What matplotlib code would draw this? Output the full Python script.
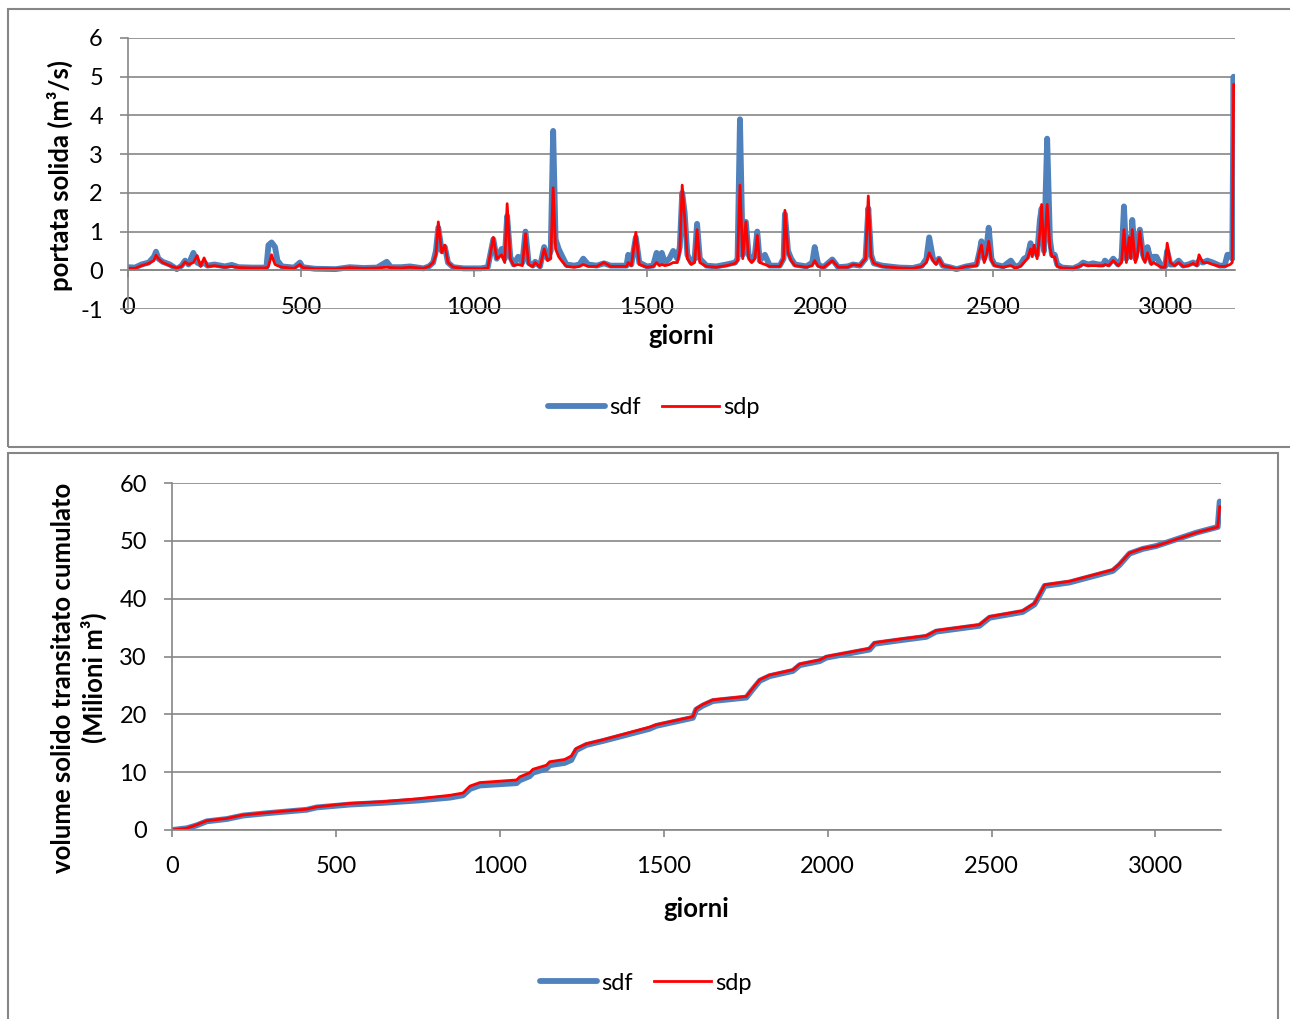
import matplotlib
matplotlib.use("Agg")
import matplotlib.pyplot as plt
from matplotlib.patches import Rectangle
import numpy as np

plt.rcParams['font.family'] = ['Lato', 'DejaVu Sans']
plt.rcParams['axes.unicode_minus'] = False

# portata solida giornaliera (punti principali)
giorni_q = [0, 20, 39, 60, 75, 81, 88, 100, 121, 141, 155, 165, 175, 189, 200, 210, 220, 230, 250, 280,
            300, 320, 360, 400, 406, 415, 425, 432, 445, 480, 497, 505, 540, 600, 641, 680, 720, 748, 760, 790,
            815, 854, 870, 882, 890, 897, 907, 916, 925, 940, 970, 1020, 1040, 1056, 1066, 1080, 1089, 1096, 1105, 1115,
            1128, 1140, 1149, 1158, 1170, 1177, 1191, 1203, 1213, 1222, 1229, 1236, 1245, 1253, 1267, 1290, 1305, 1316, 1330, 1355,
            1376, 1395, 1420, 1441, 1446, 1455, 1468, 1478, 1500, 1518, 1528, 1536, 1543, 1552, 1565, 1576, 1588, 1595, 1602, 1609,
            1617, 1628, 1638, 1645, 1653, 1672, 1700, 1730, 1755, 1762, 1769, 1777, 1786, 1794, 1803, 1812, 1819, 1826, 1841, 1855,
            1884, 1895, 1899, 1908, 1917, 1928, 1961, 1978, 1985, 1995, 2010, 2036, 2053, 2080, 2096, 2116, 2132, 2140, 2148, 2156,
            2180, 2230, 2269, 2295, 2308, 2316, 2327, 2336, 2344, 2355, 2375, 2395, 2423, 2453, 2462, 2467, 2475, 2482, 2488, 2496,
            2505, 2530, 2552, 2565, 2580, 2590, 2600, 2609, 2614, 2619, 2628, 2636, 2641, 2648, 2657, 2665, 2671, 2679, 2686, 2700,
            2732, 2750, 2761, 2775, 2790, 2805, 2819, 2824, 2835, 2848, 2862, 2872, 2879, 2886, 2894, 2899, 2903, 2912, 2918, 2925,
            2934, 2940, 2947, 2958, 2965, 2973, 2987, 2998, 3004, 3013, 3025, 3037, 3050, 3065, 3079, 3090, 3096, 3107, 3120, 3136,
            3156, 3170, 3178, 3186, 3192, 3196, 3199]
sdf_q = [0.08, 0.07, 0.15, 0.2, 0.35, 0.48, 0.3, 0.22, 0.15, 0.03, 0.12, 0.25, 0.15, 0.45, 0.2, 0.15, 0.2, 0.12, 0.15, 0.1,
         0.14, 0.08, 0.07, 0.07, 0.65, 0.72, 0.6, 0.25, 0.1, 0.07, 0.2, 0.08, 0.04, 0.03, 0.08, 0.06, 0.07, 0.22, 0.08, 0.08,
         0.1, 0.05, 0.1, 0.2, 0.5, 1.1, 0.5, 0.6, 0.2, 0.08, 0.05, 0.05, 0.08, 0.8, 0.3, 0.55, 0.3, 1.4, 0.35, 0.15,
         0.35, 0.2, 1.0, 0.2, 0.12, 0.22, 0.1, 0.6, 0.3, 0.5, 3.6, 0.8, 0.55, 0.4, 0.15, 0.12, 0.15, 0.3, 0.15, 0.12,
         0.18, 0.12, 0.12, 0.12, 0.4, 0.15, 0.85, 0.2, 0.1, 0.12, 0.45, 0.2, 0.45, 0.2, 0.3, 0.5, 0.3, 0.6, 2.0, 1.5,
         0.4, 0.2, 0.3, 1.2, 0.3, 0.12, 0.1, 0.15, 0.2, 0.3, 3.9, 0.4, 1.25, 0.4, 0.25, 0.4, 1.0, 0.25, 0.4, 0.12,
         0.12, 0.3, 1.45, 0.5, 0.3, 0.15, 0.1, 0.2, 0.6, 0.15, 0.08, 0.28, 0.08, 0.1, 0.15, 0.12, 0.3, 1.6, 0.4, 0.18,
         0.12, 0.07, 0.06, 0.12, 0.3, 0.85, 0.3, 0.2, 0.3, 0.12, 0.08, 0.03, 0.1, 0.15, 0.5, 0.75, 0.3, 0.6, 1.1, 0.3,
         0.15, 0.1, 0.25, 0.08, 0.15, 0.3, 0.35, 0.7, 0.5, 0.6, 0.4, 1.3, 1.6, 0.5, 3.4, 0.8, 0.4, 0.4, 0.15, 0.07,
         0.05, 0.12, 0.2, 0.15, 0.18, 0.15, 0.15, 0.25, 0.15, 0.3, 0.15, 0.3, 1.65, 0.3, 0.85, 0.4, 1.3, 0.3, 0.6, 1.05,
         0.4, 0.3, 0.6, 0.2, 0.35, 0.35, 0.1, 0.1, 0.5, 0.15, 0.15, 0.25, 0.12, 0.15, 0.2, 0.15, 0.25, 0.2, 0.25, 0.2,
         0.12, 0.12, 0.4, 0.4, 0.3, 5.0, 0.35]
sdp_q = [0.05, 0.05, 0.12, 0.18, 0.25, 0.39, 0.3, 0.2, 0.12, 0.06, 0.1, 0.22, 0.15, 0.2, 0.38, 0.1, 0.32, 0.1, 0.12, 0.08,
         0.1, 0.07, 0.06, 0.06, 0.1, 0.4, 0.15, 0.12, 0.08, 0.05, 0.15, 0.07, 0.04, 0.04, 0.07, 0.05, 0.06, 0.08, 0.07, 0.06,
         0.08, 0.05, 0.1, 0.2, 0.4, 1.25, 0.45, 0.65, 0.2, 0.08, 0.05, 0.04, 0.06, 0.85, 0.3, 0.4, 0.2, 1.72, 0.3, 0.12,
         0.15, 0.12, 0.95, 0.15, 0.1, 0.2, 0.08, 0.55, 0.25, 0.3, 2.13, 0.55, 0.35, 0.25, 0.1, 0.08, 0.1, 0.15, 0.1, 0.1,
         0.2, 0.1, 0.1, 0.1, 0.2, 0.12, 0.98, 0.15, 0.08, 0.1, 0.2, 0.12, 0.15, 0.12, 0.15, 0.2, 0.2, 0.5, 2.2, 1.4,
         0.3, 0.15, 0.2, 1.05, 0.2, 0.1, 0.08, 0.12, 0.18, 0.25, 2.2, 0.3, 1.25, 0.3, 0.2, 0.3, 0.9, 0.2, 0.15, 0.1,
         0.1, 0.3, 1.55, 0.45, 0.25, 0.12, 0.08, 0.12, 0.25, 0.1, 0.07, 0.25, 0.08, 0.08, 0.15, 0.12, 0.3, 1.92, 0.35, 0.18,
         0.1, 0.06, 0.05, 0.1, 0.2, 0.45, 0.25, 0.15, 0.3, 0.12, 0.08, 0.03, 0.1, 0.12, 0.5, 0.65, 0.2, 0.4, 0.75, 0.25,
         0.12, 0.08, 0.12, 0.06, 0.1, 0.2, 0.3, 0.55, 0.35, 0.65, 0.3, 1.0, 1.7, 0.4, 1.7, 0.6, 0.35, 0.35, 0.1, 0.06,
         0.05, 0.1, 0.15, 0.12, 0.12, 0.12, 0.12, 0.15, 0.12, 0.25, 0.12, 0.2, 1.05, 0.2, 0.85, 0.3, 1.05, 0.2, 0.4, 1.0,
         0.3, 0.2, 0.45, 0.15, 0.2, 0.15, 0.08, 0.08, 0.7, 0.2, 0.12, 0.2, 0.1, 0.12, 0.18, 0.12, 0.4, 0.2, 0.2, 0.15,
         0.1, 0.1, 0.12, 0.15, 0.2, 4.8, 4.8]

# volume solido cumulato (milioni di m3)
giorni_v = [0, 45, 75, 106, 167, 217, 289, 411, 441, 543, 644, 750, 848, 888, 909, 939, 1051, 1061, 1091, 1101,
            1142, 1152, 1198, 1218, 1233, 1264, 1315, 1457, 1477, 1589, 1599, 1619, 1650, 1752, 1767, 1793, 1823, 1894, 1915, 1976,
            1996, 2128, 2143, 2220, 2301, 2331, 2463, 2494, 2595, 2631, 2646, 2662, 2738, 2870, 2890, 2921, 2961, 3002, 3124, 3190,
            3196]
sdf_v = [0, 0.3, 0.8, 1.5, 1.9, 2.5, 2.9, 3.5, 3.9, 4.4, 4.7, 5.1, 5.6, 6.0, 7.1, 7.7, 8.1, 8.6, 9.3, 9.9,
         10.6, 11.2, 11.6, 12.1, 13.8, 14.7, 15.4, 17.5, 18.0, 19.4, 20.8, 21.5, 22.3, 22.9, 24.0, 25.8, 26.6, 27.5, 28.5, 29.2,
         29.8, 31.2, 32.2, 32.8, 33.4, 34.3, 35.3, 36.7, 37.7, 39.0, 40.5, 42.2, 42.8, 44.8, 45.8, 47.8, 48.6, 49.1, 51.4, 52.4,
         56.8]
sdp_v = [0, 0.3, 0.9, 1.6, 2.0, 2.6, 3.0, 3.6, 4.0, 4.6, 4.9, 5.4, 6.0, 6.4, 7.6, 8.2, 8.65, 9.2, 9.9, 10.5,
         11.2, 11.8, 12.2, 12.8, 14.1, 14.9, 15.6, 17.8, 18.2, 19.6, 21.0, 21.7, 22.5, 23.1, 24.2, 26.0, 26.8, 27.7, 28.7, 29.4,
         30.0, 31.4, 32.4, 33.0, 33.6, 34.5, 35.5, 36.9, 37.9, 39.2, 40.7, 42.4, 43.0, 45.0, 46.0, 47.9, 48.7, 49.1, 51.4, 52.4,
         55.9]

BLUE = '#4F81BD'
RED = '#FF0000'
GRAY = '#868686'
FS = 17
FS_LAB = 18.5

W, H = 1290, 1019
fig = plt.figure(figsize=(W / 100, H / 100), dpi=100)


def box(x0, y0, x1, y1):
    """axes rect in figure fraction from pixel coords (top-left origin)"""
    return [x0 / W, 1 - y1 / H, (x1 - x0) / W, (y1 - y0) / H]


def style_axes(ax, xpad):
    ax.set_axisbelow(True)
    ax.grid(True, axis='y', color=GRAY, linewidth=1.2)
    for s in ['top', 'right']:
        ax.spines[s].set_visible(False)
    for s in ['left', 'bottom']:
        ax.spines[s].set_color(GRAY)
        ax.spines[s].set_linewidth(1.2)
    ax.tick_params(axis='y', direction='out', length=6, width=1.2, color=GRAY,
                   labelsize=FS, pad=12)
    ax.tick_params(axis='x', direction='out', length=5, width=1.2, color=GRAY,
                   labelsize=FS, pad=xpad)


# panel frames
fig.patches.append(Rectangle((8 / W, 1 - 447 / H), 1300 / W, 438 / H, transform=fig.transFigure,
                             fill=False, edgecolor=GRAY, linewidth=1.5))
fig.patches.append(Rectangle((8 / W, -0.05), 1270 / W, 1 - 453 / H + 0.05, transform=fig.transFigure,
                             fill=False, edgecolor=GRAY, linewidth=1.5))

# --- grafico 1: portata solida ---
ax1 = fig.add_axes(box(128, 38, 1235, 309))
ax1.plot(giorni_q, sdf_q, color=BLUE, linewidth=4.2, solid_capstyle='round', label='sdf')
ax1.plot(giorni_q, sdp_q, color=RED, linewidth=2.0, label='sdp')
ax1.set_xlim(0, 3200)
ax1.set_ylim(-1, 6)
ax1.set_yticks(range(-1, 7))
ax1.set_xticks(range(0, 3001, 500))
style_axes(ax1, 14)
ax1.spines['bottom'].set_position(('data', 0))
ax1.set_xlabel('giorni', fontsize=FS_LAB, fontweight='bold')
ax1.xaxis.set_label_coords(0.5, -0.055)
fig.text(60 / W, 1 - 175 / H, 'portata solida (m³/s)', rotation=90, ha='center', va='center',
         fontsize=FS_LAB, fontweight='bold')
fig.legend(*ax1.get_legend_handles_labels(), loc='center', bbox_to_anchor=(654 / W, 1 - 408 / H),
           ncol=2, frameon=False, fontsize=FS, handlelength=2.4, handletextpad=0.2, columnspacing=0.9)

# --- grafico 2: volume cumulato ---
ax2 = fig.add_axes(box(172, 483, 1221, 830))
ax2.plot(giorni_v, sdf_v, color=BLUE, linewidth=4.2, solid_capstyle='round', label='sdf')
ax2.plot(giorni_v, sdp_v, color=RED, linewidth=2.0, label='sdp')
ax2.set_xlim(0, 3200)
ax2.set_ylim(0, 60)
ax2.set_yticks(range(0, 61, 10))
ax2.set_xticks(range(0, 3001, 500))
style_axes(ax2, 14)
ax2.set_xlabel('giorni', fontsize=FS_LAB, fontweight='bold', labelpad=14)
fig.text(79 / W, 1 - 678 / H, 'volume solido transitato cumulato\n(Milioni m³)', rotation=90,
         ha='center', va='center', multialignment='center', fontsize=FS_LAB, fontweight='bold',
         linespacing=1.25)
fig.legend(*ax2.get_legend_handles_labels(), loc='center', bbox_to_anchor=(646 / W, 1 - 983 / H),
           ncol=2, frameon=False, fontsize=FS, handlelength=2.4, handletextpad=0.2, columnspacing=0.9)

fig.savefig('out.png', dpi=100)
